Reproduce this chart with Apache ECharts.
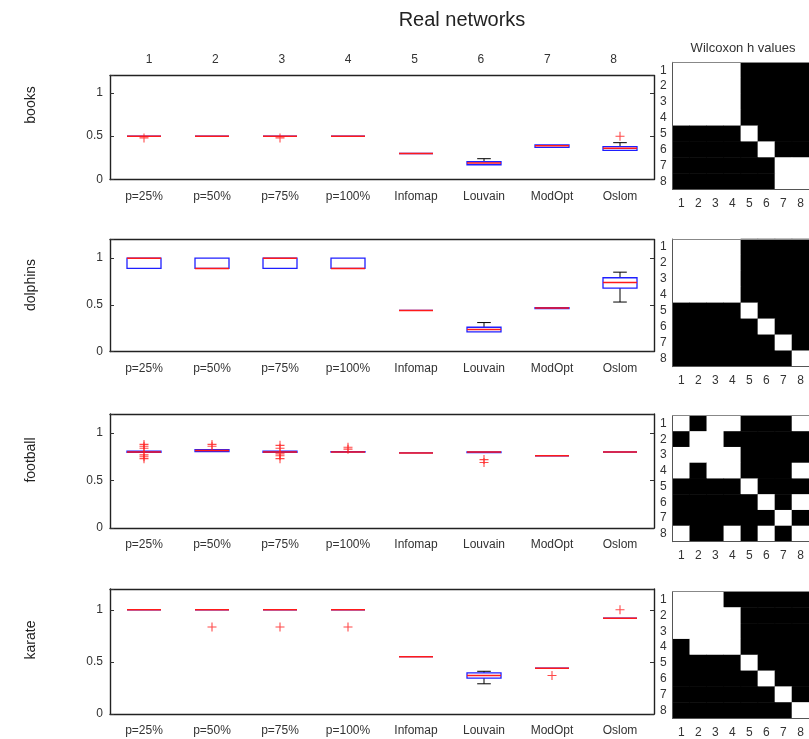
<!DOCTYPE html>
<html><head><meta charset="utf-8">
<script src="https://cdn.jsdelivr.net/npm/echarts@6/dist/echarts.min.js"></script>
<style>html,body{margin:0;padding:0;background:#fff}#c{width:809px;height:739px}</style>
</head><body><div id="c"></div>
<script>
// ---------- DATA ----------
const methods = ['p=25%','p=50%','p=75%','p=100%','Infomap','Louvain','ModOpt','Oslom'];
const methodNumbers = ['1','2','3','4','5','6','7','8'];
const networks = ['books','dolphins','football','karate'];
const yTickValues = [0, 0.5, 1];
const yTickLabels = ['0', '0.5', '1'];
const heatLabels = ['1','2','3','4','5','6','7','8'];

// each box: [low whisker, Q1, median, Q3, high whisker]
const booksBoxes = [
  [0.50,0.50,0.50,0.50,0.50],
  [0.50,0.50,0.50,0.50,0.50],
  [0.50,0.50,0.50,0.50,0.50],
  [0.50,0.50,0.50,0.50,0.50],
  [0.30,0.30,0.30,0.30,0.30],
  [0.17,0.17,0.19,0.205,0.24],
  [0.37,0.37,0.39,0.40,0.40],
  [0.33,0.335,0.36,0.38,0.425]
];
const booksOutliers = [[0,0.48],[2,0.48],[7,0.50]];

const dolphinsBoxes = [
  [0.89,0.89,1.00,1.00,1.00],
  [0.89,0.89,0.89,1.00,1.00],
  [0.89,0.89,1.00,1.00,1.00],
  [0.89,0.89,0.89,1.00,1.00],
  [0.44,0.44,0.44,0.44,0.44],
  [0.21,0.21,0.235,0.26,0.31],
  [0.46,0.46,0.465,0.47,0.47],
  [0.53,0.68,0.74,0.79,0.85]
];
const dolphinsOutliers = [];

const footballBoxes = [
  [0.795,0.795,0.80,0.81,0.81],
  [0.805,0.805,0.815,0.825,0.825],
  [0.795,0.795,0.80,0.81,0.81],
  [0.80,0.80,0.80,0.805,0.805],
  [0.79,0.79,0.79,0.79,0.79],
  [0.795,0.795,0.80,0.80,0.80],
  [0.76,0.76,0.76,0.76,0.76],
  [0.80,0.80,0.80,0.80,0.80]
];
const footballOutliers = [[0,0.73],[0,0.75],[0,0.77],[0,0.84],[0,0.86],[0,0.88],
  [1,0.86],[1,0.88],[2,0.73],[2,0.76],[2,0.78],[2,0.84],[2,0.87],[3,0.83],[3,0.85],
  [5,0.72],[5,0.69]];

const karateBoxes = [
  [1.00,1.00,1.00,1.00,1.00],
  [1.00,1.00,1.00,1.00,1.00],
  [1.00,1.00,1.00,1.00,1.00],
  [1.00,1.00,1.00,1.00,1.00],
  [0.55,0.55,0.55,0.55,0.55],
  [0.29,0.345,0.37,0.395,0.41],
  [0.44,0.44,0.44,0.44,0.44],
  [0.92,0.92,0.92,0.92,0.92]
];
const karateOutliers = [[1,0.835],[2,0.835],[3,0.835],[6,0.37],[7,1.00]];

// Wilcoxon h values (row i, column j): 0 = white, 1 = black
const booksH = [
  [0,0,0,0,1,1,1,1],[0,0,0,0,1,1,1,1],[0,0,0,0,1,1,1,1],[0,0,0,0,1,1,1,1],
  [1,1,1,1,0,1,1,1],[1,1,1,1,1,0,1,1],[1,1,1,1,1,1,0,0],[1,1,1,1,1,1,0,0]];
const dolphinsH = [
  [0,0,0,0,1,1,1,1],[0,0,0,0,1,1,1,1],[0,0,0,0,1,1,1,1],[0,0,0,0,1,1,1,1],
  [1,1,1,1,0,1,1,1],[1,1,1,1,1,0,1,1],[1,1,1,1,1,1,0,1],[1,1,1,1,1,1,1,0]];
const footballH = [
  [0,1,0,0,1,1,1,0],[1,0,0,1,1,1,1,1],[0,0,0,0,1,1,1,1],[0,1,0,0,1,1,1,0],
  [1,1,1,1,0,1,1,1],[1,1,1,1,1,0,1,0],[1,1,1,1,1,1,0,1],[0,1,1,0,1,0,1,0]];
const karateH = [
  [0,0,0,1,1,1,1,1],[0,0,0,0,1,1,1,1],[0,0,0,0,1,1,1,1],[1,0,0,0,1,1,1,1],
  [1,1,1,1,0,1,1,1],[1,1,1,1,1,0,1,1],[1,1,1,1,1,1,0,1],[1,1,1,1,1,1,1,0]];

const titleText = 'Real networks';
const heatTitle = 'Wilcoxon h values';

// ---------- LAYOUT / BUILD ----------
const allBoxes = [booksBoxes, dolphinsBoxes, footballBoxes, karateBoxes];
const allOutliers = [booksOutliers, dolphinsOutliers, footballOutliers, karateOutliers];
const allH = [booksH, dolphinsH, footballH, karateH];

const FONT = '"Liberation Sans", Arial, sans-serif';
const boxGridPos = [[75.5,104],[239.5,112],[414,114],[589,125]];
const heatGridPos = [[62.3,127],[239,127.7],[415.7,126],[591.7,126.6]];
const rowLabelY = [105, 285, 460, 640];
const frameLine = {show:true, onZero:false, lineStyle:{color:'#222', width:1.4}};

const grid = [], xAxis = [], yAxis = [], series = [];

function renderBox(params, api) {
  const x = api.value(0);
  const lo = api.coord([x, api.value(1)]);
  const q1 = api.coord([x, api.value(2)]);
  const md = api.coord([x, api.value(3)]);
  const q3 = api.coord([x, api.value(4)]);
  const hi = api.coord([x, api.value(5)]);
  const bw = api.size([1, 0])[0] * 0.5;
  const cw = bw * 0.4;
  const cx = md[0];
  const black = {stroke:'#000', lineWidth:1};
  const ch = [];
  if (hi[1] < q3[1] - 0.5) {
    ch.push({type:'line', shape:{x1:cx,y1:q3[1],x2:cx,y2:hi[1]}, style:black});
    ch.push({type:'line', shape:{x1:cx-cw/2,y1:hi[1],x2:cx+cw/2,y2:hi[1]}, style:black});
  }
  if (lo[1] > q1[1] + 0.5) {
    ch.push({type:'line', shape:{x1:cx,y1:q1[1],x2:cx,y2:lo[1]}, style:black});
    ch.push({type:'line', shape:{x1:cx-cw/2,y1:lo[1],x2:cx+cw/2,y2:lo[1]}, style:black});
  }
  ch.push({type:'rect', shape:{x:cx-bw/2, y:q3[1], width:bw, height:Math.max(q1[1]-q3[1],0)},
    style:{fill:'none', stroke:'#1f1fff', lineWidth:1.3}});
  ch.push({type:'line', shape:{x1:cx-bw/2,y1:md[1],x2:cx+bw/2,y2:md[1]},
    style:{stroke:'#ff1a1a', lineWidth:1.5}});
  return {type:'group', children: ch};
}

const plusPath = 'path://M4.4,0h1.2v4.4h4.4v1.2h-4.4v4.4h-1.2v-4.4h-4.4v-1.2h4.4z';

for (let i = 0; i < 4; i++) {
  grid.push({left:110, width:544, top:boxGridPos[i][0], height:boxGridPos[i][1]});
  xAxis.push({type:'category', gridIndex:i, data:methods, position:'bottom', boundaryGap:true,
    axisLine:frameLine, axisTick:{show:false},
    axisLabel:{color:'#333', fontSize:12, fontFamily:FONT, margin:11, interval:0}});
  xAxis.push({type:'category', gridIndex:i, data:methods, position:'top',
    axisLine:frameLine, axisTick:{show:false}, axisLabel:{show:false}});
  const yCommon = {type:'value', gridIndex:i, min:0, max:1.2, interval:0.5,
    splitLine:{show:false}, axisLine:frameLine,
    axisTick:{show:true, inside:true, length:4, lineStyle:{color:'#333'}}};
  yAxis.push(Object.assign({}, yCommon, {position:'left',
    axisLabel:{color:'#333', fontSize:12, fontFamily:FONT, margin:7,
      formatter: v => { const k = yTickValues.indexOf(v); return k >= 0 ? yTickLabels[k] : ''; }}}));
  yAxis.push(Object.assign({}, yCommon, {position:'right', axisLabel:{show:false}}));

  series.push({type:'custom', xAxisIndex:2*i, yAxisIndex:2*i, renderItem:renderBox,
    encode:{x:0, y:[1,2,3,4,5]},
    data: allBoxes[i].map((b, k) => [k].concat(b)), z:3});
  series.push({type:'scatter', xAxisIndex:2*i, yAxisIndex:2*i, symbol:plusPath, symbolSize:9,
    itemStyle:{color:'#ff1a1a'}, data: allOutliers[i], z:4});
}

// top numbers grid (index 4)
grid.push({left:115.8, width:531, top:75.5, height:104});
xAxis.push({type:'category', gridIndex:4, data:methodNumbers, position:'top',
  axisLine:{show:false}, axisTick:{show:false},
  axisLabel:{color:'#333', fontSize:12, fontFamily:FONT, margin:10, interval:0}});
yAxis.push({type:'value', gridIndex:4, show:false});

// heatmap grids (5..8)
const heatSeriesIdx = [];
const heatLine = {show:true, onZero:false, lineStyle:{color:'#555', width:1}};
for (let k = 0; k < 4; k++) {
  const gi = 5 + k;
  grid.push({left:672.7, width:143, top:heatGridPos[k][0], height:heatGridPos[k][1]});
  xAxis.push({type:'category', gridIndex:gi, data:heatLabels, position:'bottom', z:5,
    axisLine:heatLine, axisTick:{show:false}, splitArea:{show:false},
    axisLabel:{color:'#333', fontSize:12, fontFamily:FONT, margin:8, interval:0}});
  xAxis.push({type:'category', gridIndex:gi, data:heatLabels, position:'top', z:5,
    axisLine:{show:true, onZero:false, lineStyle:{color:'#888', width:1}}, axisTick:{show:false}, axisLabel:{show:false}});
  yAxis.push({type:'category', gridIndex:gi, data:heatLabels, inverse:true, position:'left', z:5,
    axisLine:heatLine, axisTick:{show:false}, splitArea:{show:false},
    axisLabel:{color:'#333', fontSize:12, fontFamily:FONT, margin:6, interval:0}});
  const data = [];
  allH[k].forEach((row, r) => row.forEach((v, c) => data.push([c, r, v])));
  heatSeriesIdx.push(series.length);
  series.push({type:'heatmap', xAxisIndex:9 + 2*k, yAxisIndex:9 + k, data:data, z:1,
    itemStyle:{borderWidth:0}, emphasis:{disabled:true}});
}

const graphic = [
  {type:'text', x:462, y:20, style:{text:titleText, fill:'#222', font:'20px ' + FONT,
    textAlign:'center', textVerticalAlign:'middle'}},
  {type:'text', x:743, y:48, style:{text:heatTitle, fill:'#333', font:'13px ' + FONT,
    textAlign:'center', textVerticalAlign:'middle'}}
];
networks.forEach((n, i) => {
  graphic.push({type:'text', x:31, y:rowLabelY[i], rotation:Math.PI/2,
    style:{text:n, fill:'#222', font:'14px ' + FONT, textAlign:'center', textVerticalAlign:'middle'}});
});

const option = {
  animation:false,
  backgroundColor:'#fff',
  grid, xAxis, yAxis, series, graphic,
  visualMap:[{type:'piecewise', show:false, seriesIndex:heatSeriesIdx, dimension:2,
    pieces:[{value:0, color:'#ffffff'}, {value:1, color:'#000000'}]}]
};
const chart = echarts.init(document.getElementById('c'));
chart.setOption(option);
</script></body></html>
